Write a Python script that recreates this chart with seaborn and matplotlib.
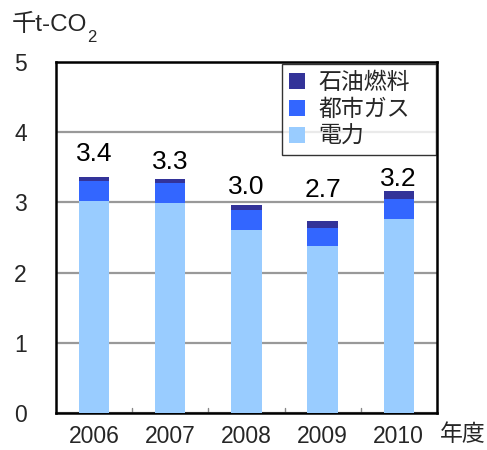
import matplotlib
matplotlib.use("Agg")
import matplotlib.pyplot as plt
import seaborn as sns
import pandas as pd
from matplotlib.patches import Patch

sns.set_theme(style="white")
plt.rcParams['font.family'] = ['Liberation Sans', 'Noto Sans CJK JP']

years = ["2006", "2007", "2008", "2009", "2010"]
electricity = [3.02, 2.99, 2.61, 2.38, 2.76]   # 電力
city_gas = [0.29, 0.29, 0.28, 0.26, 0.29]      # 都市ガス
oil = [0.05, 0.06, 0.08, 0.10, 0.11]           # 石油燃料

labels = ["石油燃料", "都市ガス", "電力"]
colors = {"石油燃料": "#333399", "都市ガス": "#3366FF", "電力": "#99CCFF"}

df = pd.DataFrame({"year": years, "電力": electricity,
                   "都市ガス": city_gas, "石油燃料": oil})
df["gas_top"] = df["電力"] + df["都市ガス"]
df["total"] = df["gas_top"] + df["石油燃料"]

FS = 16.5

fig = plt.figure(figsize=(4.87, 4.5), dpi=100)
ax = fig.add_axes([0.115, 0.0822, 0.782, 0.780])

# stacked bars drawn as overlapping cumulative heights
for col, key in [("total", "石油燃料"), ("gas_top", "都市ガス"), ("電力", "電力")]:
    sns.barplot(data=df, x="year", y=col, color=colors[key], width=0.40,
                saturation=1, ax=ax, zorder=3, linewidth=0)

label_offsets = [11.5, 7.2, 7.9, 17.3, 3.6]
for i, t in enumerate(df["total"]):
    ax.annotate(f"{t:.1f}", (i, t), xytext=(0, label_offsets[i]),
                textcoords="offset points", ha="center", va="baseline",
                fontsize=19, color="black", zorder=5)

ax.set_ylim(0, 5)
ax.set_xlim(-0.5, 4.5)
ax.set_yticks([0, 1, 2, 3, 4, 5])
ax.yaxis.grid(True, color="#999999", linewidth=1.6, zorder=0)
ax.set_axisbelow(True)
ax.set_xlabel("")
ax.set_ylabel("")
ax.tick_params(axis="y", labelsize=FS, length=0, pad=21)
ax.tick_params(axis="x", labelsize=FS, length=0, pad=8.5)
ax.set_yticklabels(["0", "1", "2", "3", "4", "5"])
for lbl in ax.get_xticklabels() + ax.get_yticklabels():
    lbl.set_family("Liberation Sans")

# small inward ticks between categories
for b in [0.5, 1.5, 2.5, 3.5]:
    ax.plot([b, b], [0, 0.07], color="#888888", lw=1, zorder=2)

for s in ax.spines.values():
    s.set_visible(True)
    s.set_color("black")
    s.set_linewidth(1.8)

handles = [Patch(facecolor=colors[k], edgecolor="none") for k in labels]
leg = ax.legend(handles, labels, loc="upper left",
                bbox_to_anchor=(0.593, 0.0, 0.404, 0.994), mode="expand",
                fontsize=FS, frameon=True, fancybox=False, handlelength=0.7,
                handleheight=0.7, handletextpad=0.6, borderpad=0.3,
                labelspacing=0.17, borderaxespad=0.0)
leg.get_frame().set_edgecolor("black")
leg.get_frame().set_linewidth(1.0)

title = fig.text(0.025, 0.945, "千t-CO", fontsize=17.5, ha="left", va="center")
fig.canvas.draw()
ax.annotate("2", xy=(1.0, 0.0), xycoords=title, xytext=(0.0, -1),
            textcoords="offset points", fontsize=12,
            ha="left", va="center", annotation_clip=False)
fig.text(0.903, 0.034, "年度", fontsize=FS, ha="left", va="center")

fig.savefig("out.png", dpi=100)
